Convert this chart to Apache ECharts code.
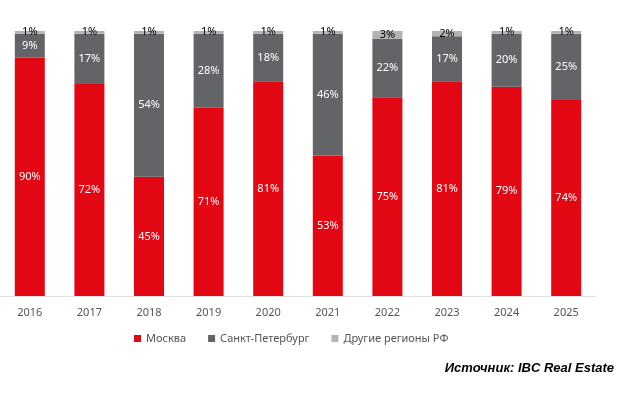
<!DOCTYPE html>
<html><head><meta charset="utf-8">
<script src="https://cdn.jsdelivr.net/npm/echarts@6/dist/echarts.min.js"></script>
<style>html,body{margin:0;padding:0;background:#fff}#c{width:620px;height:395px}</style>
</head><body><div id="c"></div>
<script>
const years = ['2016','2017','2018','2019','2020','2021','2022','2023','2024','2025'];
const moscow = [90, 80, 45, 71, 81, 53, 75, 81, 79, 74];
const moscowLabels = ['90%','72%','45%','71%','81%','53%','75%','81%','79%','74%'];
const spb = [9, 19, 54, 28, 18, 46, 22, 17, 20, 25];
const spbLabels = ['9%','17%','54%','28%','18%','46%','22%','17%','20%','25%'];
const other = [1, 1, 1, 1, 1, 1, 3, 2, 1, 1];
const seriesNames = ['Москва', 'Санкт-Петербург', 'Другие регионы РФ'];
const sourceText = 'Источник: IBC Real Estate';

const font = '"Noto Sans", sans-serif';
const chart = echarts.init(document.getElementById('c'), null, {renderer: 'canvas'});
chart.setOption({
  animation: false,
  grid: {left: 0, right: 24, top: 31, bottom: 99, containLabel: false},
  xAxis: {
    type: 'category', data: years,
    axisLine: {lineStyle: {color: '#e2e2e2', width: 1}},
    axisTick: {show: false},
    axisLabel: {color: '#555', fontFamily: font, fontSize: 11, margin: 11}
  },
  yAxis: {type: 'value', min: 0, max: 100, show: false, splitLine: {show: false}},
  legend: {
    left: 129, top: 328, icon: 'rect', itemWidth: 7, itemHeight: 7, itemGap: 22,
    textStyle: {color: '#555', fontFamily: font, fontSize: 11},
    data: seriesNames
  },
  graphic: [{
    type: 'text', right: 6, top: 362,
    style: {text: sourceText, fill: '#000', font: 'italic bold 13px "Liberation Sans", Arial, sans-serif'}
  }],
  series: [
    {name: seriesNames[0], type: 'bar', stack: 's', barWidth: 30, data: moscow,
     itemStyle: {color: '#e30613'},
     label: {show: true, position: 'inside', color: '#fff', fontFamily: font, fontSize: 11,
       formatter: p => moscowLabels[p.dataIndex]}},
    {name: seriesNames[1], type: 'bar', stack: 's', barWidth: 30, data: spb,
     itemStyle: {color: '#636467'},
     label: {show: true, position: 'inside', color: '#fff', fontFamily: font, fontSize: 11,
       formatter: p => spbLabels[p.dataIndex]}},
    {name: seriesNames[2], type: 'bar', stack: 's', barWidth: 30, data: other,
     itemStyle: {color: '#b3b3b3'},
     label: {show: true, position: 'inside', color: '#000', fontFamily: font, fontSize: 11, formatter: '{c}%'}}
  ]
});
</script></body></html>
